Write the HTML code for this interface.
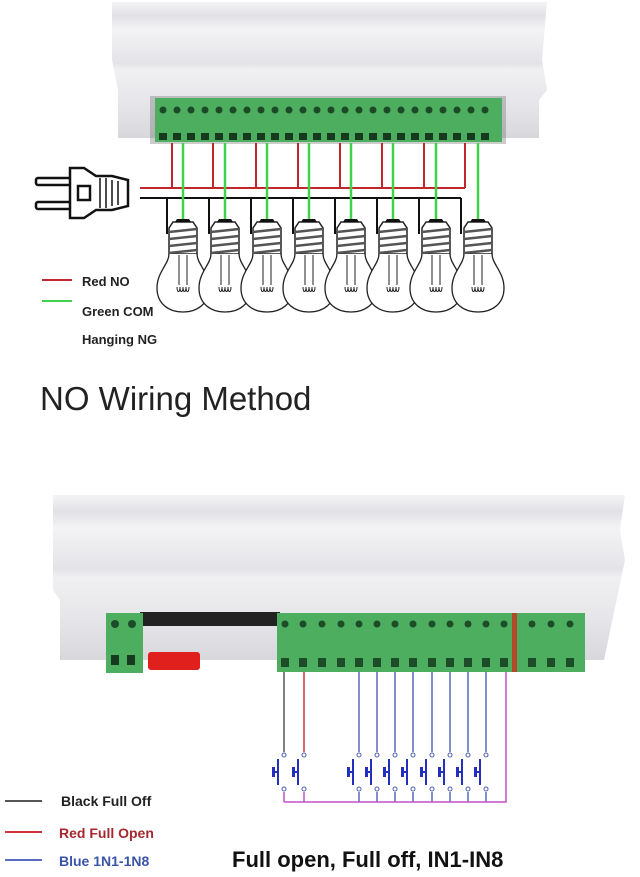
<!DOCTYPE html>
<html><head><meta charset="utf-8"><style>
body{margin:0;background:#fff;}
svg{display:block}
text{font-family:"Liberation Sans",sans-serif}
</style></head><body>
<svg width="640" height="877" viewBox="0 0 640 877">
<defs>
<linearGradient id="enc" x1="0" y1="0" x2="0" y2="1">
<stop offset="0" stop-color="#f4f4f6"/><stop offset="0.1" stop-color="#e2e2e6"/><stop offset="0.2" stop-color="#f3f3f5"/><stop offset="0.45" stop-color="#e4e4e8"/><stop offset="0.5" stop-color="#f0f0f2"/><stop offset="0.75" stop-color="#e6e6ea"/><stop offset="1" stop-color="#d8d8dc"/>
</linearGradient>
<g id="bulb">
<path d="M-10,0 h20 l4,6 v26 h-28 v-26z" fill="#fff" stroke="#222" stroke-width="1.5"/>
<path d="M-14,10 l28,-3 M-14,17 l28,-3 M-14,24 l28,-3 M-14,31 l28,-3" stroke="#555" stroke-width="2.5"/>
<path d="M-8,0 h16 l-2,-3 h-12z" fill="#111"/>
<path d="M-14,32 C-14,42 -26,50 -26,66 C-26,82 -14,90 0,90 C14,90 26,82 26,66 C26,50 14,42 14,32" fill="#fff" stroke="#222" stroke-width="1.3"/>
<path d="M-4,33 v30 M4,33 v30 M-6,65 c0,6 3,6 3,0 c0,6 3,6 3,0 c0,6 3,6 3,0 c0,6 3,6 3,0" fill="none" stroke="#222" stroke-width="1"/>
</g>
<g id="sw">
<circle cx="6" cy="2" r="2" fill="none" stroke="#4a5fb0"/>
<circle cx="6" cy="36" r="2" fill="none" stroke="#4a5fb0"/>
<path d="M0,6 v26 M0,19 h-4" stroke="#2130c0" stroke-width="2" fill="none"/>
<rect x="-6" y="14" width="3" height="10" fill="#2130c0"/>
</g>
</defs>

<!-- top enclosure -->
<path d="M112,2 H547 L542,60 L547,90 L539,100 V138 H118 V90 L112,60Z" fill="url(#enc)"/>
<rect x="150" y="96" width="356" height="48" fill="#555" opacity="0.3"/>
<rect x="155" y="98" width="347" height="44" fill="#4cae5e"/>
<g fill="#1c4a26">
<circle cx="163" cy="110" r="3.5"/><circle cx="177" cy="110" r="3.5"/><circle cx="191" cy="110" r="3.5"/><circle cx="205" cy="110" r="3.5"/><circle cx="219" cy="110" r="3.5"/><circle cx="233" cy="110" r="3.5"/><circle cx="247" cy="110" r="3.5"/><circle cx="261" cy="110" r="3.5"/><circle cx="275" cy="110" r="3.5"/><circle cx="289" cy="110" r="3.5"/><circle cx="303" cy="110" r="3.5"/><circle cx="317" cy="110" r="3.5"/><circle cx="331" cy="110" r="3.5"/><circle cx="345" cy="110" r="3.5"/><circle cx="359" cy="110" r="3.5"/><circle cx="373" cy="110" r="3.5"/><circle cx="387" cy="110" r="3.5"/><circle cx="401" cy="110" r="3.5"/><circle cx="415" cy="110" r="3.5"/><circle cx="429" cy="110" r="3.5"/><circle cx="443" cy="110" r="3.5"/><circle cx="457" cy="110" r="3.5"/><circle cx="471" cy="110" r="3.5"/><circle cx="485" cy="110" r="3.5"/>
</g>
<g fill="#163a1e">
<rect x="159" y="133" width="8" height="7"/><rect x="173" y="133" width="8" height="7"/><rect x="187" y="133" width="8" height="7"/><rect x="201" y="133" width="8" height="7"/><rect x="215" y="133" width="8" height="7"/><rect x="229" y="133" width="8" height="7"/><rect x="243" y="133" width="8" height="7"/><rect x="257" y="133" width="8" height="7"/><rect x="271" y="133" width="8" height="7"/><rect x="285" y="133" width="8" height="7"/><rect x="299" y="133" width="8" height="7"/><rect x="313" y="133" width="8" height="7"/><rect x="327" y="133" width="8" height="7"/><rect x="341" y="133" width="8" height="7"/><rect x="355" y="133" width="8" height="7"/><rect x="369" y="133" width="8" height="7"/><rect x="383" y="133" width="8" height="7"/><rect x="397" y="133" width="8" height="7"/><rect x="411" y="133" width="8" height="7"/><rect x="425" y="133" width="8" height="7"/><rect x="439" y="133" width="8" height="7"/><rect x="453" y="133" width="8" height="7"/><rect x="467" y="133" width="8" height="7"/><rect x="481" y="133" width="8" height="7"/>
</g>

<!-- wires top -->
<g stroke="#c0272d" stroke-width="2" fill="none">
<path d="M172,143V188M213,143V188M256,143V188M298,143V188M340,143V188M382,143V188M424,143V188M465,143V188M140,188H465"/>
</g>
<g stroke="#111" stroke-width="2" fill="none">
<path d="M140,198H461 M167,198V234 M209,198V234 M251,198V234 M293,198V234 M335,198V234 M377,198V234 M419,198V234 M461,198V234"/>
</g>
<g stroke="#3fd24a" stroke-width="2.5" fill="none">
<path d="M183,143V222M225,143V222M267,143V222M309,143V222M351,143V222M393,143V222M436,143V222M478,143V222"/>
</g>
<g>
<use href="#bulb" x="183" y="222"/><use href="#bulb" x="225" y="222"/><use href="#bulb" x="267" y="222"/><use href="#bulb" x="309" y="222"/><use href="#bulb" x="351" y="222"/><use href="#bulb" x="393" y="222"/><use href="#bulb" x="436" y="222"/><use href="#bulb" x="478" y="222"/>
</g>

<!-- plug -->
<g fill="#fff" stroke="#111" stroke-width="2.5">
<rect x="36" y="178" width="36" height="7" rx="2"/>
<rect x="36" y="202" width="36" height="7" rx="2"/>
<path d="M70,168 H84 L96,176 H112 L128,180 V206 L112,210 H96 L84,218 H70Z"/>
<rect x="78" y="186" width="12" height="14"/>
<path d="M100,178V208 M106,178V208 M112,180V206 M118,181V205" stroke-width="1.5"/>
</g>

<!-- legend top -->
<line x1="42" y1="280" x2="72" y2="280" stroke="#c0272d" stroke-width="2"/>
<line x1="42" y1="301" x2="72" y2="301" stroke="#3fd24a" stroke-width="2"/>
<text x="82" y="286" font-size="13" font-weight="bold" fill="#222">Red NO</text>
<text x="82" y="316" font-size="13" font-weight="bold" fill="#222">Green COM</text>
<text x="82" y="344" font-size="13" font-weight="bold" fill="#222">Hanging NG</text>
<text x="40" y="410" font-size="33" fill="#222">NO Wiring Method</text>

<!-- bottom enclosure -->
<path d="M53,495 H625 L620,530 L625,560 L604,660 H60 V600 L53,590Z" fill="url(#enc)"/>
<rect x="140" y="612" width="140" height="14" fill="#222"/>
<rect x="106" y="613" width="37" height="60" fill="#4cae5e"/>
<circle cx="115" cy="624" r="4" fill="#1d4d28"/><circle cx="132" cy="624" r="4" fill="#1d4d28"/>
<rect x="111" y="655" width="8" height="10" fill="#163a1e"/><rect x="127" y="655" width="8" height="10" fill="#163a1e"/>
<rect x="148" y="652" width="52" height="18" rx="3" fill="#e0201c"/>
<rect x="277" y="613" width="308" height="59" fill="#4cae5e"/>
<rect x="512" y="613" width="5" height="59" fill="#b04a2a"/>
<g fill="#1d4d28">
<circle cx="285" cy="624" r="3.5"/><circle cx="303" cy="624" r="3.5"/><circle cx="322" cy="624" r="3.5"/><circle cx="341" cy="624" r="3.5"/><circle cx="359" cy="624" r="3.5"/><circle cx="377" cy="624" r="3.5"/><circle cx="395" cy="624" r="3.5"/><circle cx="413" cy="624" r="3.5"/><circle cx="432" cy="624" r="3.5"/><circle cx="450" cy="624" r="3.5"/><circle cx="468" cy="624" r="3.5"/><circle cx="486" cy="624" r="3.5"/><circle cx="504" cy="624" r="3.5"/><circle cx="532" cy="624" r="3.5"/><circle cx="551" cy="624" r="3.5"/><circle cx="570" cy="624" r="3.5"/>
<rect x="281" y="658" width="8" height="9"/><rect x="299" y="658" width="8" height="9"/><rect x="318" y="658" width="8" height="9"/><rect x="337" y="658" width="8" height="9"/><rect x="355" y="658" width="8" height="9"/><rect x="373" y="658" width="8" height="9"/><rect x="391" y="658" width="8" height="9"/><rect x="409" y="658" width="8" height="9"/><rect x="428" y="658" width="8" height="9"/><rect x="446" y="658" width="8" height="9"/><rect x="464" y="658" width="8" height="9"/><rect x="482" y="658" width="8" height="9"/><rect x="500" y="658" width="8" height="9"/><rect x="528" y="658" width="8" height="9"/><rect x="547" y="658" width="8" height="9"/><rect x="566" y="658" width="8" height="9"/>
</g>

<!-- bottom wires -->
<path d="M284,672V752" stroke="#555" stroke-width="1.5"/>
<path d="M304,672V752" stroke="#d0343a" stroke-width="1.5"/>
<g stroke="#5a6cc0" stroke-width="1.5">
<path d="M359,672V752M377,672V752M395,672V752M413,672V752M432,672V752M450,672V752M468,672V752M486,672V752"/>
<path d="M359,792V802M377,792V802M395,792V802M413,792V802M432,792V802M450,792V802M468,792V802M486,792V802"/>
</g>
<path d="M284,792V802 M304,792V802 M284,802H506V672" stroke="#c050c8" stroke-width="1.5" fill="none"/>
<g>
<use href="#sw" x="278" y="753"/><use href="#sw" x="298" y="753"/>
<use href="#sw" x="353" y="753"/><use href="#sw" x="371" y="753"/><use href="#sw" x="389" y="753"/><use href="#sw" x="407" y="753"/><use href="#sw" x="426" y="753"/><use href="#sw" x="444" y="753"/><use href="#sw" x="462" y="753"/><use href="#sw" x="480" y="753"/>
</g>

<!-- legend bottom -->
<line x1="5" y1="801" x2="42" y2="801" stroke="#555" stroke-width="2"/>
<line x1="5" y1="832" x2="42" y2="832" stroke="#d0343a" stroke-width="2"/>
<line x1="5" y1="860" x2="42" y2="860" stroke="#5a6cc0" stroke-width="2"/>
<text x="61" y="806" font-size="14" font-weight="bold" fill="#222">Black Full Off</text>
<text x="59" y="838" font-size="14" font-weight="bold" fill="#a52830">Red Full Open</text>
<text x="59" y="866" font-size="14" font-weight="bold" fill="#3a55a8">Blue 1N1-1N8</text>
<text x="232" y="867" font-size="22" font-weight="bold" fill="#111">Full open, Full off, IN1-IN8</text>
</svg>
</body></html>
